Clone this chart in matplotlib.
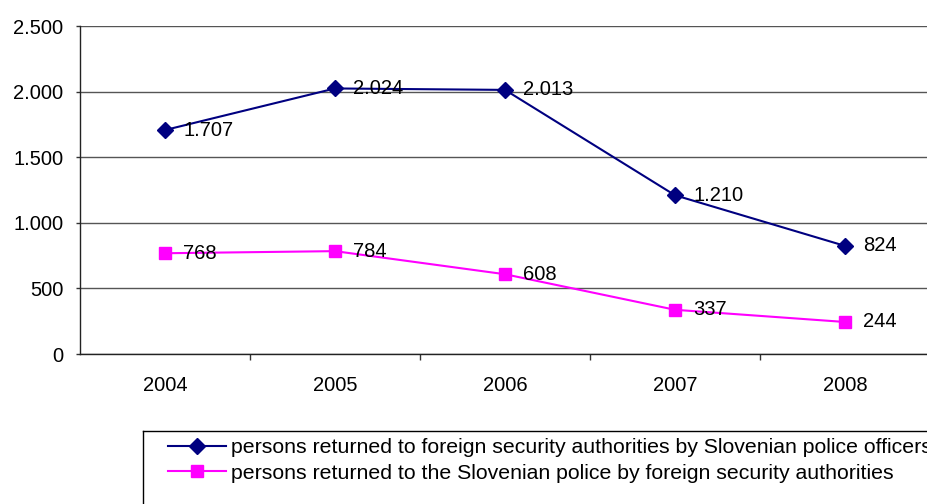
import matplotlib.pyplot as plt
from matplotlib.lines import Line2D

plt.rcParams['font.family'] = ['Liberation Sans', 'DejaVu Sans']

years = ['2004', '2005', '2006', '2007', '2008']
returned_by_slovenia = [1707, 2024, 2013, 1210, 824]
returned_to_slovenia = [768, 784, 608, 337, 244]
y_ticks = [0, 500, 1000, 1500, 2000, 2500]
y_tick_labels = ['0', '500', '1.000', '1.500', '2.000', '2.500']

label_out = 'persons returned to foreign security authorities by Slovenian police officers'
label_in = 'persons returned to the Slovenian police by foreign security authorities'

FS = 14.5
LEGEND_FS = 15.3


def fmt(v):
    return f'{v:,}'.replace(',', '.')


fig = plt.figure(figsize=(9.28, 5.04), dpi=100)
# plot area runs a little past the right edge of the figure
ax = fig.add_axes([80 / 928, 1 - 354 / 504, 850 / 928, 328 / 504])

x = list(range(len(years)))
ax.plot(x, returned_by_slovenia, color='#000080', lw=1.5, marker='D',
        ms=8.5, label=label_out, zorder=3)
ax.plot(x, returned_to_slovenia, color='#FF00FF', lw=1.5, marker='s',
        ms=8.5, label=label_in, zorder=3)

for series in (returned_by_slovenia, returned_to_slovenia):
    for xi, v in zip(x, series):
        ax.annotate(fmt(v), (xi, v), xytext=(13, 0), textcoords='offset points',
                    va='center', ha='left', fontsize=FS, zorder=4)

ax.set_xlim(-0.5, len(years) - 0.5)
ax.set_ylim(0, 2500)
ax.set_yticks(y_ticks)
ax.set_yticklabels(y_tick_labels, fontsize=FS)
ax.set_xticks(x)
ax.set_xticklabels(years, fontsize=FS)
ax.set_xticks([i + 0.5 for i in range(len(years) - 1)], minor=True)
ax.tick_params(axis='x', which='major', length=0, pad=16)
ax.tick_params(axis='x', which='minor', length=4.5, width=1, color='#333333')
ax.tick_params(axis='y', length=3, width=1, color='#333333', pad=9)

ax.grid(axis='y', color='#555555', lw=1)
ax.set_axisbelow(True)
for side in ('top', 'right'):
    ax.spines[side].set_visible(False)
for side in ('left', 'bottom'):
    ax.spines[side].set_color('#222222')
    ax.spines[side].set_linewidth(1)

# legend frame: only the top and left edges fall inside the figure
box_left = 143 / 928
box_top = 1 - 431 / 504
fig.add_artist(Line2D([box_left, 1.0], [box_top, box_top],
                      transform=fig.transFigure, color='black', lw=1))
fig.add_artist(Line2D([box_left, box_left], [box_top, 0.0],
                      transform=fig.transFigure, color='black', lw=1))
fig.legend(loc='upper left', bbox_to_anchor=(168 / 928, 1 - 438 / 504),
           fontsize=LEGEND_FS, frameon=False, handlelength=2.75,
           handletextpad=0.2, borderpad=0, labelspacing=0.32, borderaxespad=0)

fig.savefig('out.png', dpi=100)
